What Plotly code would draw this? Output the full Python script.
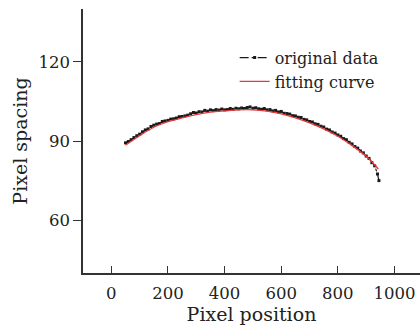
import plotly.graph_objects as go

# original data
orig_x = [50, 60, 70, 80, 90, 100, 110, 120, 130, 140, 150, 160, 170, 180, 190,
          200, 210, 220, 230, 240, 250, 260, 270, 280, 290, 300, 310, 320, 330, 340,
          350, 360, 370, 380, 390, 400, 410, 420, 430, 440, 450, 460, 470, 480, 490,
          500, 510, 520, 530, 540, 550, 560, 570, 580, 590, 600, 610, 620, 630, 640,
          650, 660, 670, 680, 690, 700, 710, 720, 730, 740, 750, 760, 770, 780, 790,
          800, 810, 820, 830, 840, 850, 860, 870, 880, 890, 900, 910, 920, 930, 940, 945]
orig_y = [89.3, 89.8, 90.5, 91.3, 92.0, 92.6, 93.5, 94.2, 94.6, 95.5, 96.0, 96.4, 96.6, 97.4, 97.6,
          97.8, 98.3, 98.4, 98.7, 99.2, 99.3, 99.5, 99.8, 100.3, 100.8, 100.6, 101.1, 101.0, 101.6, 101.3,
          101.8, 101.5, 101.9, 101.7, 102.1, 101.8, 101.9, 102.3, 102.0, 102.4, 102.2, 102.5, 102.3, 102.7, 102.9,
          102.4, 102.6, 102.2, 102.0, 102.3, 101.8, 101.9, 101.4, 101.6, 101.0, 101.2, 100.5, 100.4, 100.2, 99.6,
          99.5, 99.0, 98.9, 98.2, 98.0, 97.4, 97.2, 96.5, 96.3, 95.6, 95.3, 94.5, 94.2, 93.4, 93.0,
          92.3, 91.8, 90.9, 90.5, 89.5, 88.9, 87.9, 87.3, 86.2, 85.5, 84.3, 83.4, 81.8, 80.6, 77.5, 75.0]

# fitting curve
fit_x = [50, 100, 150, 200, 250, 300, 350, 400, 450, 500, 550, 600, 650, 700, 750,
         800, 850, 900, 943]
fit_y = [88.4, 92.0, 95.2, 97.3, 98.8, 100.0, 100.9, 101.4, 101.8, 101.8, 101.3, 100.3, 98.8, 96.9, 94.6,
         91.8, 88.3, 84.2, 79.4]

x_ticks = [0, 200, 400, 600, 800, 1000]
y_ticks = [60, 90, 120]

FONT = "DejaVu Serif"

fig = go.Figure()
fig.add_trace(go.Scatter(
    x=orig_x, y=orig_y, mode="lines+markers", name="original data",
    line=dict(color="#1a1a1a", width=1.2, dash="dashdot"),
    marker=dict(color="#1a1a1a", size=3, symbol="square"),
))
fig.add_trace(go.Scatter(
    x=fit_x, y=fit_y, mode="lines", name="fitting curve",
    line=dict(color="#e8383a", width=1.3, shape="spline"),
))

fig.update_layout(
    width=420, height=326,
    margin=dict(l=83, r=0, t=9, b=53),
    paper_bgcolor="white", plot_bgcolor="white",
    font=dict(family=FONT, size=16, color="#222"),
    showlegend=True,
    legend=dict(x=0.45, y=0.88, xanchor="left", yanchor="top",
                bgcolor="rgba(0,0,0,0)", font=dict(family=FONT, size=16),
                tracegroupgap=0),
    xaxis=dict(
        range=[-100, 1090], tickvals=x_ticks, ticks="inside", ticklen=7,
        tickcolor="#333", tickwidth=1.3,
        showline=True, linecolor="#333", linewidth=1.6, showgrid=False, zeroline=False,
        tickfont=dict(family=FONT, size=16.5), ticklabelstandoff=4,
        title=dict(text="Pixel position", font=dict(family=FONT, size=19), standoff=2),
    ),
    yaxis=dict(
        range=[40, 140], tickvals=y_ticks, ticks="outside", ticklen=8,
        tickcolor="#333", tickwidth=1.3,
        showline=True, linecolor="#333", linewidth=1.6, showgrid=False, zeroline=False,
        tickfont=dict(family=FONT, size=16.5),
        title=dict(text="Pixel spacing", font=dict(family=FONT, size=19), standoff=6),
    ),
)

fig.write_html("out.html", config={"displayModeBar": False},
               post_script="document.body.style.margin='0';document.body.style.padding='0';")
